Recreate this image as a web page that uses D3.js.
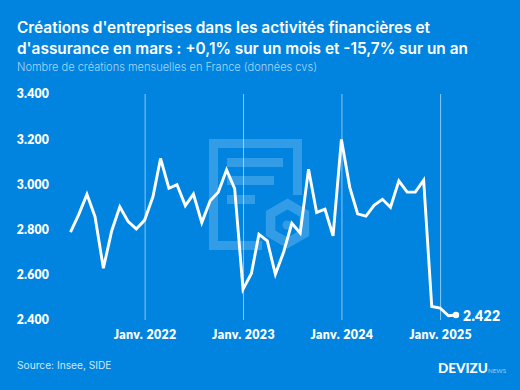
<!DOCTYPE html>
<html><head><meta charset="utf-8">
<script src="https://cdnjs.cloudflare.com/ajax/libs/d3/7.8.5/d3.min.js"></script>
<style>html,body{margin:0;padding:0;background:#0084e0}svg{display:block}</style></head>
<body><svg id="c" width="520" height="390"></svg>
<script>
const titleLines = ["Créations d'entreprises dans les activités financières et","d'assurance en mars : +0,1% sur un mois et -15,7% sur un an"];
const subtitle = "Nombre de créations mensuelles en France (données cvs)";
const source = "Source: Insee, SIDE";
const startMonth = "2021-04";
const values = [2789,2865,2956,2857,2629,2795,2901,2835,2803,2842,2946,3115,2983,2999,2906,2957,2831,2928,2965,3064,2981,2536,2606,2779,2750,2602,2702,2828,2785,3067,2876,2890,2772,3199,2987,2870,2860,2907,2934,2899,3016,2966,2966,3019,2460,2453,2419,2422];
const yTicks = [2400,2600,2800,3000,3200,3400];
const yearTicks = ["2022-01","2023-01","2024-01","2025-01"];
const yearLabels = ["Janv. 2022","Janv. 2023","Janv. 2024","Janv. 2025"];

const parse = d3.timeParse("%Y-%m");
const start = parse(startMonth);
const dates = values.map((_,i)=>d3.timeMonth.offset(start,i));
const data = dates.map((d,i)=>({d,v:values[i]}));
const fmt = v => d3.format(",")(v).replace(",",".") ;

const svg = d3.select("#c");
svg.append("rect").attr("width",520).attr("height",390).attr("fill","#0084e0");

// watermark logo
const logo = svg.append("g").attr("fill","#fff").attr("fill-opacity",0.2);
logo.append("path").attr("fill-rule","evenodd").attr("d","M209 139H302V195H293V148H218V241H262V250H209Z");
[[227,158,56],[227,176,47],[227,195,28]].forEach(([x,y,w])=>logo.append("rect").attr("x",x).attr("y",y).attr("width",w).attr("height",9));
const hex = (r)=>d3.range(6).map(i=>{const a=Math.PI/3*i-Math.PI/2;return [287.5+r*Math.cos(a),223.5+r*Math.sin(a)];});
const hexPath = r=>"M"+hex(r).map(p=>p.join(",")).join("L")+"Z";
logo.append("path").attr("fill-rule","evenodd").attr("d",hexPath(25)+hexPath(14));
logo.append("circle").attr("cx",287).attr("cy",225).attr("r",4.5);

const x = d3.scaleTime().domain([start,dates[dates.length-1]]).range([70.5,456]);
const y = d3.scaleLinear().domain([2400,3400]).range([320,94]);

const F = "Lato, 'Open Sans', sans-serif";
// year rules
const xa = svg.append("g").attr("transform","translate(0,320)")
  .call(d3.axisBottom(x).tickValues(yearTicks.map(parse)).tickSize(-226).tickPadding(10).tickFormat((d,i)=>yearLabels[i]));
xa.select(".domain").remove();
xa.selectAll("line").attr("stroke","#fff").attr("stroke-opacity",0.55).attr("stroke-width",1);
xa.selectAll("text").attr("fill","#fff").attr("font-family",F).attr("font-weight",800).attr("font-size",12.4).attr("letter-spacing",0.35);

const ya = svg.append("g").attr("transform","translate(49,0)")
  .call(d3.axisLeft(y).tickValues(yTicks).tickSize(0).tickPadding(0).tickFormat(fmt));
ya.select(".domain").remove();
ya.selectAll("text").attr("fill","#fff").attr("font-family",F).attr("font-weight",800).attr("font-size",12.2).attr("letter-spacing",0.2);

svg.append("path").datum(data)
  .attr("fill","none").attr("stroke","#fff").attr("stroke-width",2.9).attr("stroke-linejoin","miter")
  .attr("d",d3.line().x(d=>x(d.d)).y(d=>y(d.v)));
const last = data[data.length-1];
svg.append("circle").attr("cx",x(last.d)).attr("cy",y(last.v)).attr("r",3.2).attr("fill","#fff");
svg.append("text").attr("x",x(last.d)+7).attr("y",y(last.v)+5.5).attr("fill","#fff")
  .attr("font-family",F).attr("font-weight",800).attr("font-size",14).attr("letter-spacing",0.3).text(fmt(last.v));

titleLines.forEach((t,i)=>svg.append("text").attr("x",17).attr("y",32.5+i*21).attr("fill","#fff")
  .attr("font-family","Inter, sans-serif").attr("font-weight",600).attr("font-size",15.4).text(t));
svg.append("text").attr("x",17).attr("y",71).attr("fill","#a9d6f6").attr("font-family","Inter, sans-serif")
  .attr("font-weight",300).attr("font-size",11.05).text(subtitle);
svg.append("text").attr("x",17).attr("y",369).attr("fill","#cfe8fb").attr("font-family","Inter, sans-serif")
  .attr("font-size",10.2).text(source);
svg.append("text").attr("x",438).attr("y",373).attr("fill","#fff").attr("font-family","Lato, sans-serif")
  .attr("font-weight",900).attr("font-size",13.5).text("DEVIZU");
svg.append("text").attr("x",488).attr("y",373).attr("fill","#9fd0f5").attr("font-family","Lato, sans-serif")
  .attr("font-size",6.2).text("NEWS");
</script></body></html>
